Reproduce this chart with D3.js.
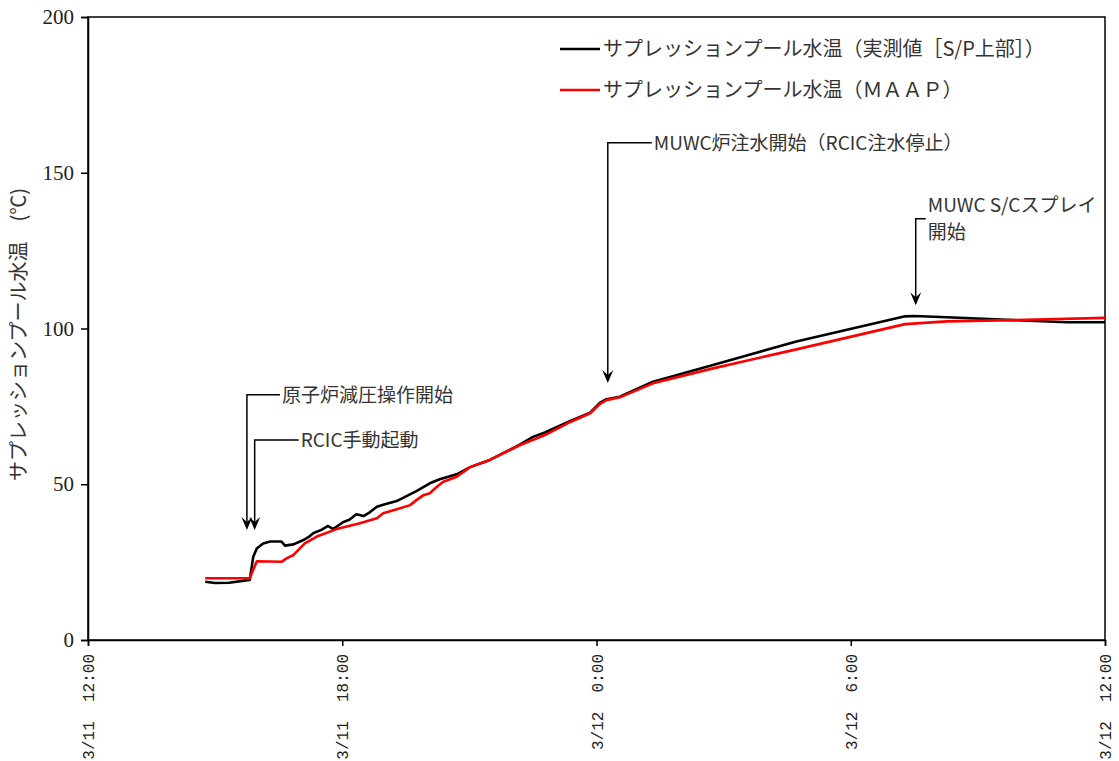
<!DOCTYPE html>
<html>
<head>
<meta charset="utf-8">
<script src="https://cdn.jsdelivr.net/npm/d3@7"></script>
<style>
  body { margin: 0; background: #fff; }
  svg { display: block; }
</style>
</head>
<body>
<svg id="chart" width="1119" height="761"></svg>
<script>
// ---------------- data ----------------
// Measured suppression pool water temperature (S/P upper part)
const measuredTime = [
  "3/11 14:46","3/11 15:00","3/11 15:20","3/11 15:49","3/11 15:54","3/11 15:59","3/11 16:08","3/11 16:18",
  "3/11 16:34","3/11 16:39","3/11 16:51","3/11 17:05","3/11 17:12","3/11 17:19","3/11 17:31","3/11 17:40","3/11 17:47",
  "3/11 18:01","3/11 18:10","3/11 18:20","3/11 18:30","3/11 18:39","3/11 18:49","3/11 18:58","3/11 19:17","3/11 19:31",
  "3/11 19:45","3/11 20:04","3/11 20:18","3/11 20:42","3/11 21:01","3/11 21:29","3/11 22:12","3/11 22:30","3/11 22:47",
  "3/11 23:23","3/11 23:51","3/12 0:05","3/12 0:14","3/12 0:33","3/12 1:20","3/12 2:45","3/12 4:43",
  "3/12 7:17","3/12 7:30","3/12 8:16","3/12 9:50","3/12 11:06","3/12 12:00"
];
const measuredTemp = [
  18.7, 18.3, 18.4, 19.3, 26.7, 29.4, 31.0, 31.6,
  31.6, 30.3, 30.7, 32.1, 33.0, 34.3, 35.4, 36.6, 35.6,
  37.8, 38.6, 40.4, 39.8, 41.0, 42.8, 43.4, 44.6, 46.2,
  47.8, 50.3, 51.6, 53.2, 55.5, 57.8, 62.8, 65.2, 66.6,
  70.3, 73.0, 76.2, 77.3, 78.1, 82.9, 88.3, 95.8,
  103.9, 104.0, 103.6, 102.7, 102.0, 102.0
];
// MAAP analysis
const maapTime = [
  "3/11 14:46","3/11 15:49","3/11 15:59","3/11 16:34","3/11 16:41","3/11 16:51","3/11 17:00","3/11 17:07",
  "3/11 17:24","3/11 17:52","3/11 18:25","3/11 18:49","3/11 18:58","3/11 19:22","3/11 19:36","3/11 19:45",
  "3/11 19:55","3/11 20:04","3/11 20:14","3/11 20:23","3/11 20:42","3/11 21:01","3/11 21:29","3/11 22:12",
  "3/11 22:47","3/11 23:23","3/11 23:51","3/12 0:05","3/12 0:14","3/12 0:33","3/12 1:20","3/12 2:45",
  "3/12 4:43","3/12 7:17","3/12 8:16","3/12 9:50","3/12 12:00"
];
const maapTemp = [
  19.8, 19.8, 25.3, 25.1, 26.2, 27.3, 29.4, 31.0,
  33.2, 35.6, 37.5, 39.1, 40.7, 42.3, 43.3, 44.9,
  46.5, 47.1, 49.2, 50.8, 52.4, 55.5, 57.8, 62.6,
  65.8, 70.0, 72.8, 75.8, 77.0, 77.9, 82.4, 87.2,
  93.3, 101.4, 102.3, 102.7, 103.4
];
const seriesNames = [
  "サプレッションプール水温（実測値［S/P上部］）",
  "サプレッションプール水温（ＭＡＡＰ）"
];
const seriesColors = ["#000000", "#ff0000"];

const yTicks = [0, 50, 100, 150, 200];
const xTickTimes = ["3/11 12:00","3/11 18:00","3/12 0:00","3/12 6:00","3/12 12:00"];
const xTickLabels = ["3/11\u00a0\u00a012:00","3/11\u00a0\u00a018:00","3/12\u00a0\u00a00:00","3/12\u00a0\u00a06:00","3/12\u00a0\u00a012:00"];
const yTitle = "サプレッションプール水温\u3000(℃)";

// Event annotations: arrow time, arrow tip temp, arrow top temp, label lines
const eventTime = ["3/11 15:45", "3/11 15:56", "3/12 0:16", "3/12 7:32"];
const eventTipTemp = [35.3, 35.3, 82.5, 107.5];
const eventTopTemp = [78.7, 64.2, 159.6, 135.2];
const eventLabels = [
  ["原子炉減圧操作開始"],
  ["RCIC手動起動"],
  ["MUWC炉注水開始（RCIC注水停止）"],
  ["MUWC S/Cスプレイ", "開始"]
];

// ---------------- drawing ----------------
const parse = d3.timeParse("%m/%d %H:%M");
const svg = d3.select("#chart");
const W = 1119, H = 761;
const m = { left: 88, right: 14, top: 17, bottom: 121 };
const pw = W - m.left - m.right, ph = H - m.top - m.bottom;

const x = d3.scaleTime()
  .domain([parse(xTickTimes[0]), parse(xTickTimes[xTickTimes.length - 1])])
  .range([m.left, m.left + pw]);
const y = d3.scaleLinear().domain([0, 200]).range([m.top + ph, m.top]);

const jp = "'Noto Sans CJK JP', 'Noto Sans', sans-serif";

// frame
svg.append("rect")
  .attr("x", m.left).attr("y", m.top).attr("width", pw).attr("height", ph)
  .attr("fill", "none").attr("stroke", "#000").attr("stroke-width", 1.5);

// y axis
const yAxis = svg.append("g")
  .attr("transform", `translate(${m.left},0)`)
  .call(d3.axisLeft(y).tickValues(yTicks).tickSize(7).tickPadding(7).tickFormat(d3.format("d")));
yAxis.select(".domain").attr("stroke-width", 1.5);
yAxis.selectAll(".tick line").attr("stroke-width", 1.5);
yAxis.selectAll("text")
  .attr("font-family", "'Liberation Serif', serif").attr("font-size", 21).attr("fill", "#222");

// x axis
const xAxis = svg.append("g")
  .attr("transform", `translate(0,${m.top + ph})`)
  .call(d3.axisBottom(x).tickValues(xTickTimes.map(parse)).tickSize(6)
    .tickFormat((d, i) => xTickLabels[i]));
xAxis.select(".domain").attr("stroke-width", 1.5);
xAxis.selectAll(".tick line").attr("stroke-width", 1.5);
xAxis.selectAll("text")
  .attr("font-family", "'Liberation Mono', monospace").attr("font-size", 16).attr("fill", "#222")
  .attr("text-anchor", "end")
  .attr("transform", "rotate(-90)")
  .attr("x", -14).attr("y", 0).attr("dy", "0.35em");

// y title
svg.append("text")
  .attr("transform", `translate(19,${m.top + ph / 2 + 6}) rotate(-90)`)
  .attr("text-anchor", "middle").attr("dy", "0.35em")
  .attr("font-family", jp).attr("font-size", 20).attr("fill", "#333")
  .text(yTitle);

// lines
const line = d3.line().x(d => x(d[0])).y(d => y(d[1]));
const series = [
  measuredTime.map((t, i) => [parse(t), measuredTemp[i]]),
  maapTime.map((t, i) => [parse(t), maapTemp[i]])
];
series.forEach((s, i) => {
  svg.append("path").datum(s)
    .attr("fill", "none").attr("stroke", seriesColors[i]).attr("stroke-width", 2.6)
    .attr("stroke-linejoin", "round").attr("d", line);
});

// legend
seriesNames.forEach((name, i) => {
  const ly = 49 + i * 41;
  svg.append("line").attr("x1", 560).attr("x2", 600).attr("y1", ly).attr("y2", ly)
    .attr("stroke", seriesColors[i]).attr("stroke-width", 2.6);
  svg.append("text").attr("x", 603).attr("y", ly).attr("dy", "0.36em")
    .attr("font-family", jp).attr("font-size", 20).attr("fill", "#333").text(name);
});

// annotations
const hookLen = [33, 44, 44, 10];
eventTime.forEach((t, i) => {
  const ax = x(parse(t));
  const tipY = y(eventTipTemp[i]);
  const topY = y(eventTopTemp[i]);
  const g = svg.append("g");
  g.append("path")
    .attr("d", `M${ax + hookLen[i]},${topY}H${ax}V${tipY - 4}`)
    .attr("fill", "none").attr("stroke", "#000").attr("stroke-width", 1.5);
  g.append("path")
    .attr("d", `M${ax},${tipY} L${ax - 5.5},${tipY - 13} L${ax},${tipY - 8} L${ax + 5.5},${tipY - 13} Z`)
    .attr("fill", "#000");
  const lines = eventLabels[i];
  lines.forEach((txt, j) => {
    const lyy = lines.length > 1 ? topY - 14 + j * 27 : topY;
    g.append("text").attr("x", ax + hookLen[i] + 2).attr("y", lyy).attr("dy", "0.36em")
      .attr("font-family", jp).attr("font-size", 19).attr("fill", "#333").text(txt);
  });
});
</script>
</body>
</html>
